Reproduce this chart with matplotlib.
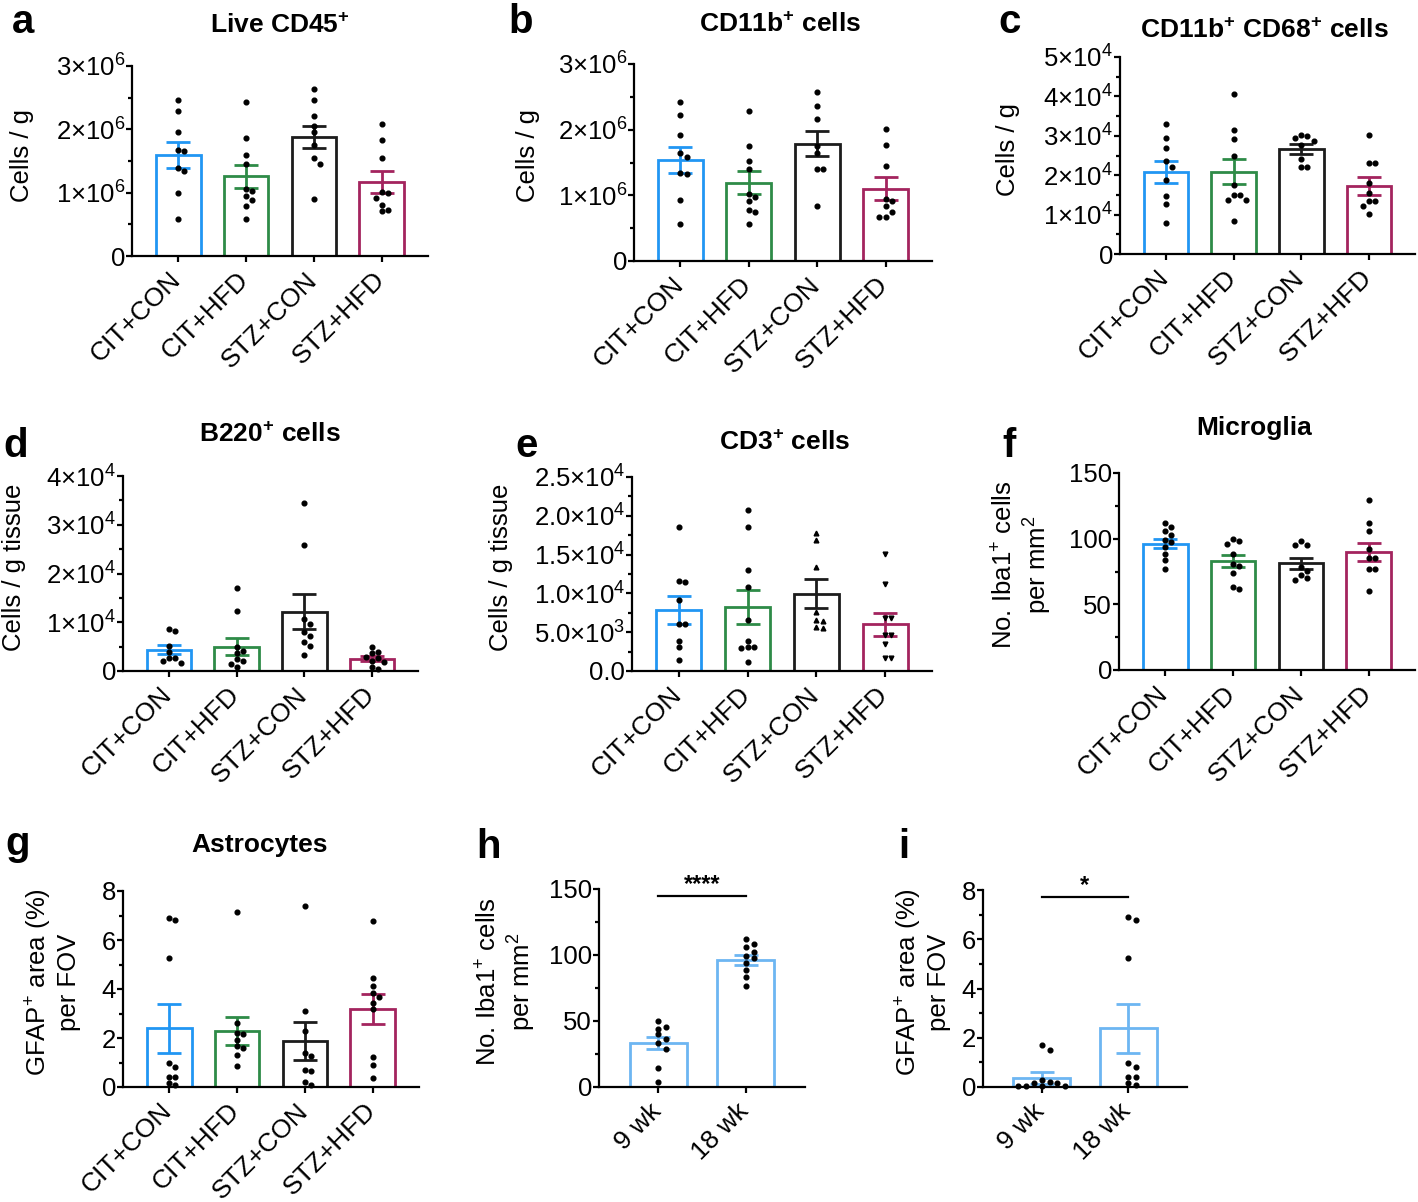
import matplotlib
matplotlib.use("Agg")
import matplotlib.pyplot as plt
from matplotlib.transforms import ScaledTranslation

plt.rcParams["font.family"] = "Liberation Sans"
plt.rcParams["mathtext.fontset"] = "custom"
plt.rcParams["mathtext.rm"] = "Liberation Sans"
plt.rcParams["mathtext.bf"] = "Liberation Sans:bold"
plt.rcParams["mathtext.it"] = "Liberation Sans:italic"

W, H = 1418, 1202

groups = ["CIT+CON", "CIT+HFD", "STZ+CON", "STZ+HFD"]
weeks = ["9 wk", "18 wk"]

# colours of the four groups, and the lighter blue used in h / i
group_colors = ["#2196F3", "#2E8B47", "#1C1C1C", "#A3245E"]
week_colors = ["#6DB6F2", "#6DB6F2"]

# ---- a: Live CD45+ (x10^6 cells / g) ----
a_means = [1.595, 1.26, 1.88, 1.17]
a_sems = [0.20, 0.18, 0.18, 0.17]
a_dots = [
    [2.47, 2.29, 1.96, 1.67, 1.66, 1.39, 1.34, 1.00, 0.58],
    [2.43, 1.87, 1.60, 1.46, 1.06, 1.03, 0.94, 0.89, 0.79, 0.58],
    [2.64, 2.47, 2.21, 2.06, 1.96, 1.76, 1.54, 1.46, 0.90],
    [2.09, 1.83, 1.54, 1.01, 0.99, 0.92, 0.80, 0.72, 0.71],
]

# ---- b: CD11b+ cells (x10^6) ----
b_means = [1.536, 1.195, 1.785, 1.103]
b_sems = [0.20, 0.17, 0.19, 0.17]
b_dots = [
    [2.42, 2.22, 1.92, 1.64, 1.59, 1.34, 1.32, 0.93, 0.56],
    [2.29, 1.75, 1.52, 1.40, 1.02, 0.98, 0.91, 0.78, 0.75, 0.56],
    [2.58, 2.36, 2.17, 1.75, 1.64, 1.40, 1.40, 0.84],
    [2.01, 1.76, 1.45, 0.95, 0.92, 0.83, 0.74, 0.67, 0.67],
]

# ---- c: CD11b+ CD68+ cells (x10^4) ----
c_means = [2.09, 2.09, 2.66, 1.73]
c_sems = [0.28, 0.32, 0.13, 0.23]
c_dots = [
    [3.31, 2.95, 2.69, 2.35, 2.22, 1.88, 1.48, 1.28, 0.79],
    [4.07, 3.14, 2.91, 2.49, 1.76, 1.51, 1.49, 1.38, 1.38, 0.85],
    [3.03, 3.00, 2.95, 2.88, 2.77, 2.42, 2.21, 2.21],
    [3.03, 2.31, 2.31, 1.79, 1.55, 1.34, 1.34, 1.21, 1.02],
]

# ---- d: B220+ cells (x10^4) ----
d_means = [0.44, 0.50, 1.22, 0.25]
d_sems = [0.10, 0.17, 0.36, 0.05]
d_dots = [
    [0.87, 0.83, 0.51, 0.39, 0.27, 0.27, 0.20, 0.16],
    [1.71, 1.24, 0.49, 0.42, 0.37, 0.25, 0.20, 0.15, 0.08],
    [3.45, 2.59, 1.07, 0.97, 0.79, 0.72, 0.60, 0.51, 0.32],
    [0.49, 0.39, 0.37, 0.29, 0.27, 0.20, 0.18, 0.08, 0.05],
]

# ---- e: CD3+ cells (x10^4) ----
e_means = [0.785, 0.828, 0.995, 0.60]
e_sems = [0.18, 0.22, 0.185, 0.15]
e_dots = [
    [1.86, 1.16, 1.15, 0.91, 0.61, 0.61, 0.39, 0.31, 0.14],
    [2.07, 1.85, 1.30, 1.08, 0.66, 0.39, 0.31, 0.31, 0.29, 0.12],
    [1.78, 1.69, 1.34, 0.76, 0.66, 0.64, 0.57, 0.55],
    [1.51, 1.12, 0.68, 0.68, 0.46, 0.46, 0.35, 0.17, 0.17],
]
e_markers = ["o", "o", "^", "v"]

# ---- f: Microglia ----
f_means = [96.3, 83.1, 81.3, 89.9]
f_sems = [3.6, 4.3, 4.3, 6.6]
f_dots = [
    [112, 108.7, 105.9, 102.6, 99.3, 97.5, 93.7, 88.7, 83.6, 76.8],
    [100, 98, 95.8, 88.7, 81, 79, 74.2, 63.3, 62],
    [98, 95.5, 95.5, 78.5, 75.2, 72.7, 70, 68.4],
    [129.2, 112.2, 105.6, 92, 84.9, 84.9, 76.8, 76.8, 60],
]

# ---- g: Astrocytes ----
g_means = [2.39, 2.29, 1.87, 3.17]
g_sems = [1.0, 0.56, 0.77, 0.61]
g_dots = [
    [6.9, 6.8, 5.25, 0.98, 0.80, 0.42, 0.39, 0.18, 0.07],
    [7.15, 2.6, 2.2, 2.15, 1.93, 1.68, 1.59, 1.32, 0.87],
    [7.39, 3.12, 2.29, 1.38, 1.25, 0.70, 0.64, 0.20, 0.07],
    [6.77, 4.43, 4.14, 3.82, 3.69, 3.44, 3.19, 1.22, 0.91, 0.37],
]

# ---- h / i: 9 wk vs 18 wk (18 wk = CIT+CON of f / g) ----
h_means = [33.4, 96.3]
h_sems = [4.7, 3.6]
h_dots = [[49.9, 45.6, 44.3, 39.8, 36.7, 33.4, 29.1, 14.4, 3.8], f_dots[0]]
h_sig = 145

i_means = [0.37, 2.39]
i_sems = [0.24, 1.0]
i_dots = [[1.69, 1.52, 0.30, 0.19, 0.16, 0.16, 0.05, 0.04, 0.04, 0.04], g_dots[0]]
i_sig = 7.73

# y ticks
e6_ticks = [0, 1, 2, 3]
e6_labels = ["0", "1×10$^{6}$", "2×10$^{6}$", "3×10$^{6}$"]
c_ticks = [0, 1, 2, 3, 4, 5]
c_labels = ["0"] + ["%d×10$^{4}$" % k for k in c_ticks[1:]]
d_ticks = [0, 1, 2, 3, 4]
d_labels = ["0"] + ["%d×10$^{4}$" % k for k in d_ticks[1:]]
e_ticks = [0, 0.5, 1.0, 1.5, 2.0, 2.5]
e_labels = ["0.0", "5.0×10$^{3}$", "1.0×10$^{4}$", "1.5×10$^{4}$",
            "2.0×10$^{4}$", "2.5×10$^{4}$"]
iba_ticks = [0, 50, 100, 150]
iba_labels = ["0", "50", "100", "150"]
gfap_ticks = [0, 2, 4, 6, 8]
gfap_labels = ["0", "2", "4", "6", "8"]


fig = plt.figure(figsize=(W / 100, H / 100), dpi=100)
# nudge for the slanted category labels
label_shift = ScaledTranslation(-0.01, -0.07, fig.dpi_scale_trans)


def add_ax(l, t, r, b):
    return fig.add_axes([l / W, 1 - b / H, (r - l) / W, (b - t) / H])


def ftext(x, y, s, **kw):
    fig.text(x / W, 1 - y / H, s, **kw)


def swarm(vals, span, step=0.09):
    # spread points that sit close together in y
    placed = []
    offs = []
    for v in vals:
        near = [dx for dx, pv in placed if abs(pv - v) < span]
        for dx in [0, step, -step, 2 * step, -2 * step, 3 * step, -3 * step]:
            if all(abs(dx - n) > 1e-6 for n in near):
                break
        placed.append((dx, v))
        offs.append(dx)
    return offs


def panel(ax, means, sems, dots, colors, cats, ticks, labels, markers=None):
    n = len(means)
    xs = list(range(n))
    top = ticks[-1]
    ax.bar(xs, means, width=0.66, color="white", edgecolor=colors,
           linewidth=2.0, zorder=1)
    for k in xs:
        ax.errorbar(k, means[k], yerr=sems[k], fmt="none", ecolor=colors[k],
                    elinewidth=2.0, capsize=8.5, capthick=2.0, zorder=2)
        offs = swarm(dots[k], 0.03 * top)
        m = markers[k] if markers else "o"
        ax.plot([k + o for o in offs], dots[k], linestyle="none", marker=m,
                ms=3.4, color="black", zorder=3, clip_on=False)
    ax.set_xlim(-0.68, n - 0.32)
    ax.set_ylim(0, top)
    ax.set_yticks(ticks)
    ax.set_yticklabels(labels)
    ax.set_yticks([(a + b) / 2 for a, b in zip(ticks[:-1], ticks[1:])], minor=True)
    ax.set_xticks(xs)
    for s in ["top", "right"]:
        ax.spines[s].set_visible(False)
    for s in ["left", "bottom"]:
        ax.spines[s].set_linewidth(1.6)
    ax.tick_params(axis="both", which="major", length=4.5, width=1.6,
                   colors="black")
    ax.tick_params(axis="y", labelsize=18.5, pad=0.5)
    ax.tick_params(axis="y", which="minor", length=3, width=1.6)
    ax.tick_params(axis="x", pad=5)
    # labels last, so tick_params does not reset their transform
    ax.set_xticklabels(cats, rotation=45, ha="right", va="center",
                       rotation_mode="anchor", fontsize=19)
    for lab in ax.get_xticklabels():
        lab.set_transform(lab.get_transform() + label_shift)


ax = add_ax(132, 66, 428, 256)
panel(ax, a_means, a_sems, a_dots, group_colors, groups, e6_ticks, e6_labels)
ax = add_ax(634, 64, 932, 261)
panel(ax, b_means, b_sems, b_dots, group_colors, groups, e6_ticks, e6_labels)
ax = add_ax(1120, 57, 1415, 254)
panel(ax, c_means, c_sems, c_dots, group_colors, groups, c_ticks, c_labels)
ax = add_ax(123, 476, 418, 671)
panel(ax, d_means, d_sems, d_dots, group_colors, groups, d_ticks, d_labels)
ax = add_ax(632, 477, 932, 671)
panel(ax, e_means, e_sems, e_dots, group_colors, groups, e_ticks, e_labels,
      markers=e_markers)
ax = add_ax(1119, 473, 1415, 670)
panel(ax, f_means, f_sems, f_dots, group_colors, groups, iba_ticks, iba_labels)
ax = add_ax(123, 891, 419, 1087)
panel(ax, g_means, g_sems, g_dots, group_colors, groups, gfap_ticks, gfap_labels)

ax = add_ax(599, 889, 805, 1087)
panel(ax, h_means, h_sems, h_dots, week_colors, weeks, iba_ticks, iba_labels)
ax.plot([0, 1], [h_sig, h_sig], color="black", lw=1.6, clip_on=False)
ax.text(0.5, h_sig, "****", ha="center", va="bottom", fontsize=17,
        fontweight="bold")

ax = add_ax(983, 890, 1187, 1087)
panel(ax, i_means, i_sems, i_dots, week_colors, weeks, gfap_ticks, gfap_labels)
ax.plot([0, 1], [i_sig, i_sig], color="black", lw=1.6, clip_on=False)
ax.text(0.5, i_sig, "*", ha="center", va="bottom", fontsize=17,
        fontweight="bold")

# panel letters
for lt, x, y in [("a", 12, 33), ("b", 508, 33), ("c", 998, 33),
                 ("d", 3, 457), ("e", 515, 457), ("f", 1002, 457),
                 ("g", 5, 855), ("h", 476, 858), ("i", 898, 858)]:
    ftext(x, y, lt, fontsize=29, fontweight="bold", va="baseline", ha="left")

# titles
for t, x, y in [("Live CD45$^{\\mathbf{+}}$", 280, 33),
                ("CD11b$^{\\mathbf{+}}$ cells", 780, 32),
                ("CD11b$^{\\mathbf{+}}$ CD68$^{\\mathbf{+}}$ cells", 1264, 38),
                ("B220$^{\\mathbf{+}}$ cells", 270, 442),
                ("CD3$^{\\mathbf{+}}$ cells", 785, 450),
                ("Microglia", 1254, 435),
                ("Astrocytes", 260, 852)]:
    ftext(x, y, t, fontsize=19, fontweight="bold", va="baseline", ha="center")

# y labels
for t, x, y in [("Cells / g", 22, 155),
                ("Cells / g", 528, 156),
                ("Cells / g", 1008, 150),
                ("Cells / g tissue", 14, 567),
                ("Cells / g tissue", 501, 567),
                ("No. Iba1$^{+}$ cells\nper mm$^{2}$", 1023, 565),
                ("GFAP$^{+}$ area (%)\nper FOV", 52, 982),
                ("No. Iba1$^{+}$ cells\nper mm$^{2}$", 507, 982),
                ("GFAP$^{+}$ area (%)\nper FOV", 922, 982)]:
    ftext(x, y, t, fontsize=18.5, rotation=90, ha="center", va="center",
          multialignment="center", linespacing=1.15)

fig.savefig("out.png", dpi=100)
